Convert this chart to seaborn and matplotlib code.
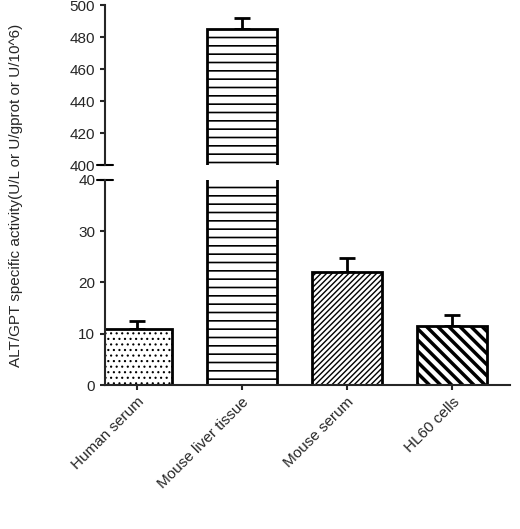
import matplotlib
matplotlib.use("Agg")
import matplotlib.pyplot as plt
import seaborn as sns
import pandas as pd

categories = ["Human serum", "Mouse liver tissue", "Mouse serum", "HL60 cells"]
values = [11.0, 485.0, 22.0, 11.5]
errors = [1.5, 7.0, 2.8, 2.2]
hatches = ["...", "--", "//////", "\\\\\\"]
hatch_lw = [0.8, 1.2, 1.0, 2.5]

sns.set_style("ticks")
plt.rcParams["font.family"] = ["Liberation Sans", "DejaVu Sans"]

df = pd.DataFrame({"cat": categories, "val": values})

fig = plt.figure(figsize=(5.2, 5.29), dpi=100)
ax_top = fig.add_axes([0.202, 0.688, 0.779, 0.302])
ax_bot = fig.add_axes([0.202, 0.272, 0.779, 0.388])

for ax in (ax_top, ax_bot):
    sns.barplot(data=df, x="cat", y="val", ax=ax, color="white",
                edgecolor="black", linewidth=2, width=0.67, zorder=2)
    for i, p in enumerate(ax.patches):
        p.set_hatch(hatches[i])
        try:
            p.set_hatch_linewidth(hatch_lw[i])
        except AttributeError:
            pass
    ax.errorbar(range(len(values)), values, yerr=[[0] * 4, errors], fmt="none",
                ecolor="black", elinewidth=2, capsize=6, capthick=2, zorder=1)
    ax.set_xlim(-0.30, 3.55)
    ax.set_ylabel("")
    ax.set_xlabel("")
    for s in ("top", "right"):
        ax.spines[s].set_visible(False)
    ax.spines["left"].set_linewidth(1.5)
    ax.spines["bottom"].set_linewidth(1.5)
    ax.tick_params(width=1.5, labelsize=11)

ax_top.set_ylim(400, 500)
ax_top.set_yticks(range(400, 501, 20))
ax_top.spines["bottom"].set_visible(False)
ax_top.set_xticks([])

ax_bot.set_ylim(0, 40)
ax_bot.set_yticks(range(0, 41, 10))
ax_bot.set_xticks(range(4))
ax_bot.set_xticklabels(categories, rotation=45, ha="right", rotation_mode="anchor")

# break marks
kw = dict(color="black", lw=1.5, clip_on=False)
ax_top.plot([-0.02, 0.02], [0, 0], transform=ax_top.transAxes, **kw)
ax_bot.plot([-0.02, 0.02], [1, 1], transform=ax_bot.transAxes, **kw)

fig.text(0.03, 0.63, "ALT/GPT specific activity(U/L or U/gprot or U/10^6)",
         rotation=90, va="center", ha="center", fontsize=11)

fig.savefig("out.png", dpi=100)
